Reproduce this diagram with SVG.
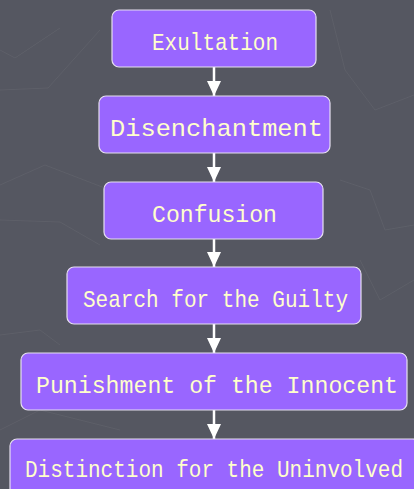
<svg xmlns="http://www.w3.org/2000/svg" width="414" height="489" viewBox="0 0 414 489">
<defs>
<style>
.box{fill:#9966FF;stroke:#E6E0F0;stroke-width:1.2}
.lbl{font-family:"Liberation Mono","Courier New",monospace;font-size:24px;fill:#FFFFCC;text-anchor:start}
.con{stroke:#FFFFFF;stroke-width:2.5;fill:none}
</style>
<marker id="ah" viewBox="0 0 15 14" refX="15" refY="7" markerWidth="15" markerHeight="14" markerUnits="userSpaceOnUse" orient="auto">
<path d="M0,0 L15,7 L0,14 Z" fill="#FFFFFF"/>
</marker>
</defs>
<rect width="414" height="489" fill="#555761"/>
<g stroke="#60626B" stroke-width="1" fill="none" opacity="0.8">
<polyline points="0,50 15,58 60,28"/>
<polyline points="0,90 48,88 100,30"/>
<polyline points="0,185 45,165 110,190"/>
<polyline points="330,10 345,70 375,110 414,95"/>
<polyline points="340,180 370,190 385,230 414,225"/>
<polyline points="0,220 60,222 100,245"/>
<polyline points="0,335 40,330 60,345"/>
<polyline points="360,260 380,300 414,280"/>
<polyline points="0,430 40,410 120,430"/>
</g>
<g id="connectors">
<line class="con" x1="214" y1="67" x2="214" y2="96" marker-end="url(#ah)"/>
<line class="con" x1="214" y1="153" x2="214" y2="182" marker-end="url(#ah)"/>
<line class="con" x1="214" y1="239" x2="214" y2="267" marker-end="url(#ah)"/>
<line class="con" x1="214" y1="324" x2="214" y2="353" marker-end="url(#ah)"/>
<line class="con" x1="214" y1="410" x2="214" y2="439" marker-end="url(#ah)"/>
</g>
<g id="n1"><rect class="box" x="112" y="10" width="204" height="57" rx="7"/><text class="lbl" x="152" y="50" textLength="126" lengthAdjust="spacingAndGlyphs">Exultation</text></g>
<g id="n2"><rect class="box" x="99" y="96" width="231" height="57" rx="7"/><text class="lbl" x="110" y="136" textLength="213" lengthAdjust="spacingAndGlyphs">Disenchantment</text></g>
<g id="n3"><rect class="box" x="104" y="182" width="219" height="57" rx="7"/><text class="lbl" x="152" y="222" textLength="125" lengthAdjust="spacingAndGlyphs">Confusion</text></g>
<g id="n4"><rect class="box" x="67" y="267" width="294" height="57" rx="7"/><text class="lbl" x="83" y="307" textLength="265" lengthAdjust="spacingAndGlyphs">Search for the Guilty</text></g>
<g id="n5"><rect class="box" x="21" y="353" width="386" height="57" rx="7"/><text class="lbl" x="36" y="393" textLength="362" lengthAdjust="spacingAndGlyphs">Punishment of the Innocent</text></g>
<g id="n6"><rect class="box" x="10" y="439" width="410" height="57" rx="7"/><text class="lbl" x="25" y="477" textLength="378" lengthAdjust="spacingAndGlyphs">Distinction for the Uninvolved</text></g>
</svg>
